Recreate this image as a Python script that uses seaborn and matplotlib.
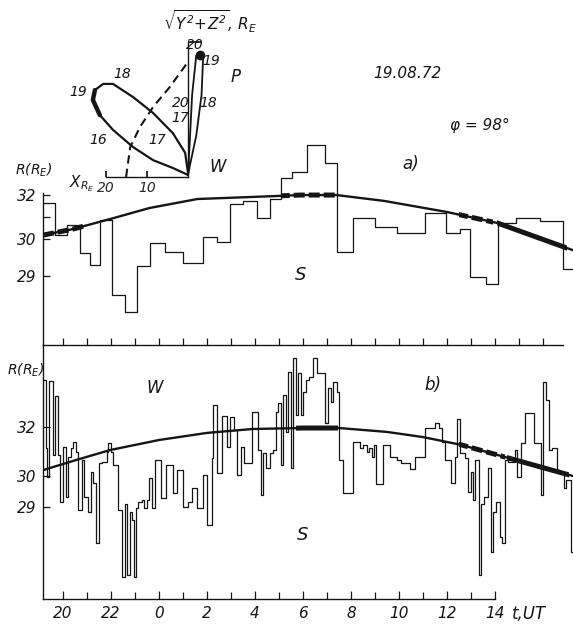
import numpy as np
import pandas as pd
import seaborn as sns
import matplotlib.pyplot as plt
from matplotlib.patches import Rectangle

sns.set_theme(style="white")
plt.rcParams["font.family"] = ["DejaVu Sans"]
plt.rcParams["font.style"] = "italic"
plt.rcParams["mathtext.default"] = "it"

INK = "#151515"

# time axis: hours from 0 UT of 18.08.72 (24 = 0 UT 19.08)
tick_hours = list(range(20, 41))
label_hours = [20, 22, 24, 26, 28, 30, 32, 34, 36, 38]
label_text = ["20", "22", "0", "2", "4", "6", "8", "10", "12", "14"]

# model distance R(t) of the satellite
curve_a_t = [19.17, 20.4, 21.96, 23.6, 25.6, 27.8, 29.9, 31.4, 33.4, 36.0, 38.1, 39.6, 40.9, 41.25]
curve_a_R = [30.18, 30.45, 30.91, 31.41, 31.82, 31.91, 32.0, 32.0, 31.73, 31.23, 30.73, 30.14, 29.78, 29.70]
curve_b_t = [19.17, 20.4, 21.96, 24.0, 26.0, 27.9, 30.0, 31.5, 33.5, 35.0, 36.6, 38.1, 39.6, 41.1, 41.25]
curve_b_R = [30.24, 30.61, 31.06, 31.47, 31.76, 31.92, 31.96, 31.96, 31.8, 31.59, 31.27, 30.86, 30.45, 30.04, 30.0]

# a) boundary distance, step starts and levels
a_t = [19.17, 19.67, 20.17, 20.71, 21.13, 21.54, 22.04, 22.58, 23.08, 23.63,
       24.25, 25.00, 25.83, 26.42, 26.96, 27.50, 28.08, 28.63, 29.08, 29.54,
       30.17, 30.92, 31.42, 32.08, 33.00, 33.92, 35.08, 35.96, 36.54, 36.96,
       37.63, 38.13, 38.88, 39.88, 40.83]
a_R = [31.64, 30.18, 30.64, 29.62, 29.30, 30.86, 28.49, 28.03, 29.27, 29.89,
       29.65, 29.35, 30.09, 29.92, 31.59, 31.73, 30.95, 31.82, 32.77, 33.05,
       34.27, 33.45, 29.65, 30.95, 30.55, 30.27, 31.18, 30.27, 30.45, 28.97,
       28.78, 30.73, 30.95, 30.82, 29.19]
a_end = 41.25

# b) same, finer time resolution
b_t = [19.18, 19.28, 19.33, 19.42, 19.57, 19.67, 19.80, 19.88, 20.01, 20.13,
       20.22, 20.32, 20.43, 20.54, 20.64, 20.78, 20.88, 21.05, 21.15, 21.26,
       21.38, 21.51, 21.61, 21.82, 21.89, 22.00, 22.10, 22.28, 22.45, 22.58,
       22.68, 22.79, 22.88, 22.96, 23.03, 23.14, 23.28, 23.38, 23.49, 23.60,
       23.70, 23.83, 24.07, 24.29, 24.57, 24.74, 25.01, 25.22, 25.36, 25.57,
       25.85, 25.99, 26.20, 26.26, 26.40, 26.63, 26.85, 26.96, 27.13, 27.24,
       27.40, 27.55, 27.86, 28.14, 28.24, 28.32, 28.46, 28.63, 28.76, 28.88,
       28.97, 29.08, 29.18, 29.28, 29.39, 29.49, 29.60, 29.71, 29.80, 29.90,
       30.01, 30.13, 30.26, 30.40, 30.57, 30.92, 31.05, 31.17, 31.26, 31.40,
       31.51, 31.68, 32.10, 32.38, 32.51, 32.65, 32.75, 32.86, 32.96, 33.03,
       33.32, 33.63, 33.90, 34.10, 34.45, 34.65, 35.07, 35.49, 35.65, 35.79,
       35.90, 36.18, 36.32, 36.42, 36.53, 36.74, 36.88, 36.99, 37.08, 37.18,
       37.32, 37.43, 37.54, 37.71, 37.82, 37.92, 38.05, 38.20, 38.29, 38.43,
       38.54, 38.82, 38.92, 39.07, 39.24, 39.63, 39.90, 40.01, 40.14, 40.25,
       40.38, 40.57, 40.70, 40.86, 40.97, 41.15]
b_R = [33.92, 31.14, 29.97, 33.88, 30.86, 33.27, 30.86, 29.16, 31.18, 29.32,
       30.78, 31.14, 31.39, 30.98, 28.90, 30.65, 29.32, 28.84, 30.16, 29.77,
       27.84, 30.53, 30.57, 30.98, 31.35, 30.98, 30.45, 28.90, 26.74, 29.10,
       26.81, 28.84, 28.58, 26.74, 28.97, 29.16, 29.23, 28.97, 29.23, 29.94,
       28.97, 30.65, 29.29, 30.45, 29.45, 30.24, 29.00, 29.16, 29.61, 28.97,
       30.04, 28.42, 30.73, 32.90, 30.12, 32.45, 31.18, 32.41, 31.88, 30.04,
       31.18, 30.53, 32.61, 31.06, 29.39, 30.94, 30.33, 30.94, 31.06, 32.61,
       32.98, 30.45, 33.31, 31.80, 34.24, 30.33, 34.82, 32.49, 34.20, 32.49,
       33.43, 33.92, 34.04, 34.82, 34.20, 32.16, 33.59, 33.02, 33.84, 33.43,
       30.65, 29.45, 31.39, 31.14, 31.27, 30.98, 31.14, 30.78, 31.27, 29.74,
       31.27, 30.78, 30.65, 30.53, 30.29, 30.78, 31.96, 32.16, 31.96, 31.39,
       30.65, 29.77, 30.78, 32.33, 30.94, 30.73, 29.48, 30.16, 29.23, 30.65,
       26.81, 29.10, 29.32, 30.33, 27.55, 28.84, 29.16, 28.03, 27.84, 30.65,
       30.57, 31.06, 29.97, 31.35, 32.57, 31.35, 29.39, 33.84, 33.10, 31.06,
       31.14, 30.24, 30.12, 29.61, 29.87, 27.55]
b_end = 41.25

# time ranges where the boundary lies on the model curve (thick parts)
a_on_curve = [(19.2, 20.9, "dash"), (29.1, 31.4, "dash"), (36.5, 37.9, "dash"), (38.1, 41.0, "solid")]
b_on_curve = [(29.7, 31.45, "solid"), (36.5, 38.4, "dash"), (38.5, 41.1, "solid")]

# orbit projections in the inset (X, sqrt(Y^2+Z^2)), R_E
orbit_w_x = [0, 3.7, 8.5, 13.4, 18.3, 21.5, 23.2, 22.7, 20.7, 18.3, 13.4, 8.5, 3.7, 0.7, 0]
orbit_w_r = [0.5, 2.2, 4.1, 7.3, 11.5, 15.1, 18.8, 21.2, 22.7, 22.7, 19.5, 15.6, 10.7, 5.9, 1.0]
orbit_p_x = [0, -0.5, -1.0, -2.0, -2.9, -3.7, -3.3, -2.0, -0.5, 0]
orbit_p_r = [0.5, 10, 20, 29.5, 30.5, 29.3, 20, 10, 3, 0.5]
bound_x = [15.1, 14.1, 11.7, 8.5, 4.4, 0.2]
bound_r = [0, 7.3, 12.2, 17.1, 22.0, 27.8]


def hand_scale(levels, heights):
    return (lambda v: np.interp(v, levels, heights),
            lambda h: np.interp(h, heights, levels))


W, H = 573, 627
fig = plt.figure(figsize=(W / 100, H / 100), dpi=100)
ax_a = fig.add_axes([43 / W, 1 - 345 / H, 530 / W, 205 / H])
ax_b = fig.add_axes([43 / W, 1 - 599 / H, 530 / W, 254 / H])
for ax in (ax_a, ax_b):
    ax.patch.set_alpha(0)
ax_a.set_yscale("function", functions=hand_scale([20, 29, 30, 32, 40], [-333, 0, 37, 81, 257]))
ax_b.set_yscale("function", functions=hand_scale([20, 29, 30, 32, 40], [-279, 0, 31, 80, 276]))


def draw_panel(ax, st, sr, end, ct, cr, thick):
    steps = pd.DataFrame({"t": st + [end], "R": sr + [sr[-1]]})
    sns.lineplot(data=steps, x="t", y="R", drawstyle="steps-post", estimator=None,
                 sort=False, color=INK, lw=0.9, ax=ax)
    model = pd.DataFrame({"t": ct, "R": cr})
    sns.lineplot(data=model, x="t", y="R", estimator=None, sort=False,
                 color=INK, lw=1.7, ax=ax)
    for t0, t1, kind in thick:
        line, = ax.plot(ct, cr, color=INK, lw=3.6, solid_capstyle="butt",
                        ls=(0, (2.2, 0.8)) if kind == "dash" else "-")
        clip = Rectangle((t0, 0), t1 - t0, 1, transform=ax.get_xaxis_transform())
        line.set_clip_path(clip)
    ax.set_xlim(19.167, 41.25)
    ax.set_xlabel("")
    ax.set_ylabel("")
    for s in ["top", "right"]:
        ax.spines[s].set_visible(False)
    for s in ["left", "bottom"]:
        ax.spines[s].set_color(INK)
        ax.spines[s].set_linewidth(1.0)
    ax.tick_params(axis="both", which="both", direction="in", length=5, width=0.9,
                   color=INK, labelsize=11, labelcolor=INK, pad=5,
                   bottom=True, left=True, top=False, right=False)


draw_panel(ax_a, a_t, a_R, a_end, curve_a_t, curve_a_R, a_on_curve)
draw_panel(ax_b, b_t, b_R, b_end, curve_b_t, curve_b_R, b_on_curve)

ax_a.set_ylim(27.14, 34.5)
ax_a.set_yticks([29, 30, 31, 32], ["29", "30", "", "32"])
ax_a.spines["left"].set_bounds(27.14, 32.1)
ax_a.spines["bottom"].set_bounds(19.167, 40.85)
ax_a.set_xticks(tick_hours, [""] * len(tick_hours))

ax_b.set_ylim(26.03, 35.35)
ax_b.set_yticks([29, 30, 32], ["29", "30", "32"])
ax_b.spines["bottom"].set_bounds(19.167, 38.0)
ax_b.set_xticks(label_hours, label_text)
ax_b.set_xticks(tick_hours[:19], minor=True)
ax_b.tick_params(axis="x", which="major", length=6)

for ax in (ax_a, ax_b):
    for lab in ax.get_xticklabels() + ax.get_yticklabels():
        lab.set_fontstyle("italic")

ax_a.text(34.5, 33.4, "a)", fontsize=12, color=INK, ha="center", va="center")
ax_a.text(29.9, 29.03, "S", fontsize=13, color=INK, ha="center", va="center")
ax_b.text(35.4, 33.7, "b)", fontsize=12, color=INK, ha="center", va="center")
ax_b.text(23.8, 33.6, "W", fontsize=12, color=INK, ha="center", va="center")
ax_b.text(30.0, 28.1, "S", fontsize=13, color=INK, ha="center", va="center")
ax_b.text(38.7, -0.058, "t,UT", transform=ax_b.get_xaxis_transform(), fontsize=12,
          color=INK, ha="left", va="center")

fig.text(34 / W, 1 - 170 / H, r"$R(R_E)$", fontsize=10, color=INK, ha="center", va="center")
fig.text(26 / W, 1 - 370 / H, r"$R(R_E)$", fontsize=10, color=INK, ha="center", va="center")
fig.text(407 / W, 1 - 73 / H, "19.08.72", fontsize=11, color=INK, ha="center", va="center")
fig.text(480 / W, 1 - 125 / H, "φ = 98°", fontsize=11, color=INK, ha="center", va="center")

# inset: orbit in X, sqrt(Y^2+Z^2) plane
axi = fig.add_axes([73.2 / W, 1 - 197.5 / H, 180.4 / W, 184.5 / H])
axi.patch.set_alpha(0)
axi.set_xlim(28, -16)
axi.set_ylim(-5, 40)
sns.lineplot(x=orbit_w_x, y=orbit_w_r, sort=False, estimator=None, color=INK, lw=1.6, ax=axi)
sns.lineplot(x=orbit_w_x[5:8], y=orbit_w_r[5:8], sort=False, estimator=None, color=INK, lw=3.2, ax=axi)
sns.lineplot(x=orbit_p_x, y=orbit_p_r, sort=False, estimator=None, color=INK, lw=1.3, ax=axi)
sns.lineplot(x=bound_x, y=bound_r, sort=False, estimator=None, color=INK, lw=1.5,
             ls=(0, (4, 2.5)), ax=axi)
axi.plot([-2.9], [29.8], "o", color=INK, ms=6)
axi.spines["top"].set_visible(False)
axi.spines["left"].set_visible(False)
axi.spines["bottom"].set_position(("data", 0))
axi.spines["bottom"].set_bounds(0, 20)
axi.spines["right"].set_position(("data", 0))
axi.spines["right"].set_bounds(0, 33)
for s in ["bottom", "right"]:
    axi.spines[s].set_color(INK)
    axi.spines[s].set_linewidth(1.0)
axi.set_xticks([20, 10], ["20", "10"])
axi.set_yticks([33], [""])
axi.yaxis.tick_right()
axi.tick_params(axis="x", direction="in", length=4, color=INK, labelsize=10, pad=3,
                bottom=True, top=False)
axi.tick_params(axis="y", direction="out", length=9, color=INK, right=True, left=False)
for lab in axi.get_xticklabels():
    lab.set_fontstyle("italic")

inset_labels = [(16.1, 25.1, "18"), (26.8, 20.7, "19"), (22.0, 9.0, "16"), (7.6, 9.0, "17"),
                (-1.7, 32.2, "20"), (-5.6, 28.3, "19"), (1.8, 18.0, "20"), (1.8, 14.4, "17"),
                (-5.0, 18.0, "18")]
for x, r, s in inset_labels:
    axi.text(x, r, s, fontsize=10, color=INK, ha="center", va="center")
axi.text(-11.5, 24.4, "P", fontsize=12, color=INK, ha="center", va="center")
axi.text(-7.3, 2.4, "W", fontsize=12, color=INK, ha="center", va="center")
axi.text(26.0, -1.7, r"$X_{R_E}$", fontsize=11, color=INK, ha="center", va="center")
axi.text(-5.4, 37.8, r"$\sqrt{Y^2\!+\!Z^2}$, $R_E$", fontsize=11, color=INK,
         ha="center", va="center", clip_on=False)

fig.savefig("out.png", dpi=100, facecolor="white")
